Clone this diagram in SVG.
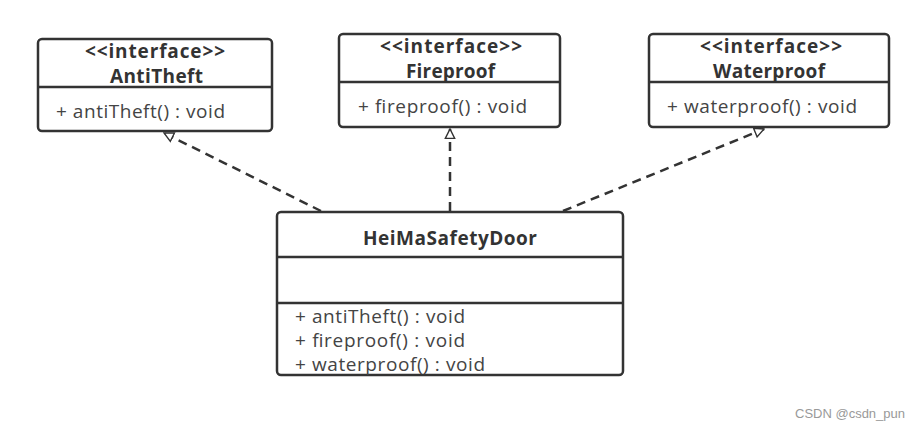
<svg xmlns="http://www.w3.org/2000/svg" width="921" height="430" viewBox="0 0 921 430">
<style>
.box{fill:#fff;stroke:#333;stroke-width:2.5}
.div{stroke:#333;stroke-width:2.5}
.t{font-family:"Open Sans","Noto Sans","Liberation Sans",sans-serif;font-size:19px;fill:#333}
.b{font-weight:bold}
.m{fill:#444}
.conn{fill:none;stroke:#333;stroke-width:2.5;stroke-dasharray:9 6}
.wm{font-family:"Liberation Sans",Arial,sans-serif;font-size:13px;fill:#999}
</style>
<defs>
<marker id="tri" viewBox="0 0 12 12" refX="11" refY="6" markerWidth="4.5" markerHeight="4.5" orient="auto" markerUnits="strokeWidth">
<path d="M1,1 L11,6 L1,11 Z" fill="#fff" stroke="#333" stroke-width="1.5"/>
</marker>
</defs>
<g id="connectors">
<line class="conn" x1="321" y1="211" x2="164" y2="133" marker-end="url(#tri)"/>
<line class="conn" x1="450" y1="211" x2="450" y2="129" marker-end="url(#tri)"/>
<line class="conn" x1="563" y1="211" x2="764" y2="129" marker-end="url(#tri)"/>
</g>
<g id="AntiTheft">
<rect class="box" x="38" y="39" width="234" height="92" rx="4"/>
<line class="div" x1="38" y1="87" x2="272" y2="87"/>
<text class="t b" x="85" y="58" textLength="140" lengthAdjust="spacing">&lt;&lt;interface&gt;&gt;</text>
<text class="t b" x="110" y="83" textLength="93" lengthAdjust="spacing">AntiTheft</text>
<text class="t m" x="56" y="118" textLength="169" lengthAdjust="spacing">+ antiTheft() : void</text>
</g>
<g id="Fireproof">
<rect class="box" x="339" y="34" width="221" height="93" rx="4"/>
<line class="div" x1="339" y1="82" x2="560" y2="82"/>
<text class="t b" x="380" y="53" textLength="142" lengthAdjust="spacing">&lt;&lt;interface&gt;&gt;</text>
<text class="t b" x="406" y="78" textLength="89" lengthAdjust="spacing">Fireproof</text>
<text class="t m" x="358" y="113" textLength="169" lengthAdjust="spacing">+ fireproof() : void</text>
</g>
<g id="Waterproof">
<rect class="box" x="649" y="34" width="240" height="93" rx="4"/>
<line class="div" x1="649" y1="82" x2="889" y2="82"/>
<text class="t b" x="700" y="53" textLength="142" lengthAdjust="spacing">&lt;&lt;interface&gt;&gt;</text>
<text class="t b" x="713" y="78" textLength="112" lengthAdjust="spacing">Waterproof</text>
<text class="t m" x="667" y="113" textLength="190" lengthAdjust="spacing">+ waterproof() : void</text>
</g>
<g id="HeiMaSafetyDoor">
<rect class="box" x="277" y="212" width="346" height="163" rx="4"/>
<line class="div" x1="277" y1="257" x2="623" y2="257"/>
<line class="div" x1="277" y1="303" x2="623" y2="303"/>
<text class="t b" x="363" y="245" textLength="174" lengthAdjust="spacing">HeiMaSafetyDoor</text>
<text class="t m" x="295" y="323" textLength="170" lengthAdjust="spacing">+ antiTheft() : void</text>
<text class="t m" x="295" y="347" textLength="170" lengthAdjust="spacing">+ fireproof() : void</text>
<text class="t m" x="295" y="371" textLength="190" lengthAdjust="spacing">+ waterproof() : void</text>
</g>
<text class="wm" x="795" y="418">CSDN @csdn_pun</text>
</svg>
